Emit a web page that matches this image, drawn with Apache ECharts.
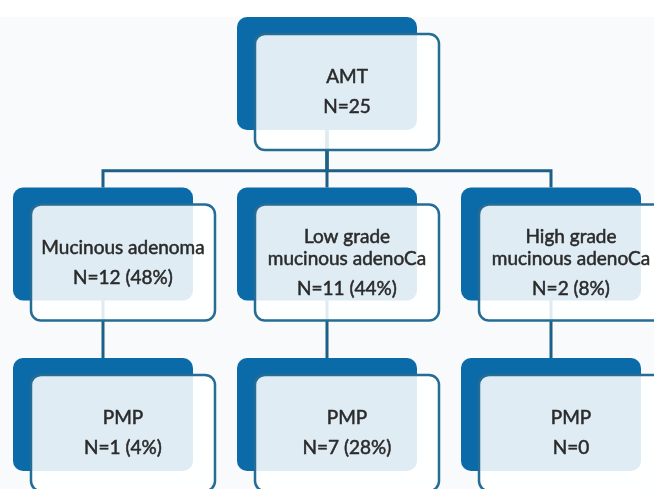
<!DOCTYPE html>
<html>
<head>
<meta charset="utf-8">
<script src="https://cdn.jsdelivr.net/npm/echarts@6/dist/echarts.min.js"></script>
<style>
  html, body { margin: 0; padding: 0; background: #ffffff; }
  #chart { width: 654px; height: 489px; }
</style>
</head>
<body>
<div id="chart"></div>
<script>
// Cohort breakdown: appendiceal mucinous tumours and pseudomyxoma peritonei
const rootName = 'AMT';
const rootCount = 25;

const subtypeNames = ['Mucinous adenoma', 'Low grade\nmucinous adenoCa', 'High grade\nmucinous adenoCa'];
const subtypeCounts = [12, 11, 2];
const subtypePercents = [48, 44, 8];

const outcomeNames = ['PMP', 'PMP', 'PMP'];
const outcomeCounts = [1, 7, 0];
const outcomePercents = [4, 28, null];

// Tree nodes: column index and depth level, plus parent reference
const nodes = [];
nodes.push({ name: rootName, count: rootCount, pct: null, col: 1, level: 0, parent: -1 });
subtypeNames.forEach(function (name, i) {
  nodes.push({ name: name, count: subtypeCounts[i], pct: subtypePercents[i], col: i, level: 1, parent: 0 });
});
outcomeNames.forEach(function (name, i) {
  nodes.push({ name: name, count: outcomeCounts[i], pct: outcomePercents[i], col: i, level: 2, parent: 1 + i });
});

const links = nodes.filter(function (n) { return n.parent >= 0; }).map(function (n) {
  const p = nodes[n.parent];
  return [p.col, p.level, n.col, n.level];
});

function countLabel(n) {
  return 'N=' + n.count + (n.pct != null ? ' (' + n.pct + '%)' : '');
}

// Box geometry (pixels)
const BACK_W = 180, BACK_H = 113, RADIUS = 10;
const FRONT_DX = 18, FRONT_DY = 17, FRONT_W = 184, FRONT_H = 116;
const DARK = '#0b6aa8';
const EDGE = '#266d95';
const LINE = '#1d5f86';
const TEXT = '#2a2a2a';
const FONT = '19px Lato, "Open Sans", sans-serif';

const chart = echarts.init(document.getElementById('chart'), null, { renderer: 'canvas' });

chart.setOption({
  backgroundColor: '#f8fafc',
  animation: false,
  graphic: [{
    type: 'rect', left: 0, top: 0, z: -10,
    shape: { width: 654, height: 17 },
    style: { fill: '#ffffff' }
  }],
  grid: { left: 0, right: 0, top: 0, bottom: 0 },
  xAxis: { type: 'value', min: -0.4598, max: 2.4598, show: false },
  yAxis: { type: 'value', inverse: true, min: -0.0997, max: 2.7683, show: false },
  series: [
    {
      // elbow connectors between parent and child boxes
      type: 'custom',
      z: 1,
      silent: true,
      encode: { x: [0, 2], y: [1, 3] },
      data: links,
      renderItem: function (params, api) {
        const p = api.coord([api.value(0), api.value(1)]);
        const c = api.coord([api.value(2), api.value(3)]);
        const startY = p[1] + BACK_H - 12;
        const midY = (p[1] + FRONT_DY + FRONT_H + c[1]) / 2 + 2;
        return {
          type: 'polyline',
          shape: { points: [[p[0], startY], [p[0], midY], [c[0], midY], [c[0], c[1]]] },
          style: { stroke: LINE, lineWidth: 3, fill: null }
        };
      }
    },
    {
      // node boxes: solid back card, translucent outlined front card, text
      type: 'custom',
      z: 2,
      silent: true,
      encode: { x: 0, y: 1 },
      data: nodes.map(function (n) { return [n.col, n.level]; }),
      renderItem: function (params, api) {
        const node = nodes[params.dataIndex];
        const pt = api.coord([api.value(0), api.value(1)]);
        const bx = pt[0] - BACK_W / 2, by = pt[1];
        const fx = bx + FRONT_DX, fy = by + FRONT_DY;
        const cx = fx + FRONT_W / 2, cy = fy + FRONT_H / 2;
        const nameLines = node.name.split('\n');
        const lineH = 22, gap = 8;
        const total = nameLines.length * lineH + gap + lineH;
        let y = cy - total / 2 + lineH / 2;
        const textStyle = function (str, ty) {
          return {
            text: str, x: cx, y: ty, align: 'center', verticalAlign: 'middle',
            font: FONT, fill: TEXT, stroke: TEXT, lineWidth: 0.5
          };
        };
        const children = [
          {
            type: 'rect',
            shape: { x: bx, y: by, width: BACK_W, height: BACK_H, r: RADIUS },
            style: { fill: DARK }
          },
          {
            type: 'rect',
            shape: { x: fx, y: fy, width: FRONT_W, height: FRONT_H, r: RADIUS },
            style: { fill: 'rgba(255,255,255,0.87)', stroke: EDGE, lineWidth: 2.5 }
          }
        ];
        nameLines.forEach(function (line) {
          children.push({ type: 'text', style: textStyle(line, y) });
          y += lineH;
        });
        y += gap;
        children.push({ type: 'text', style: textStyle(countLabel(node), y) });
        return { type: 'group', children: children };
      }
    }
  ]
});
</script>
</body>
</html>
